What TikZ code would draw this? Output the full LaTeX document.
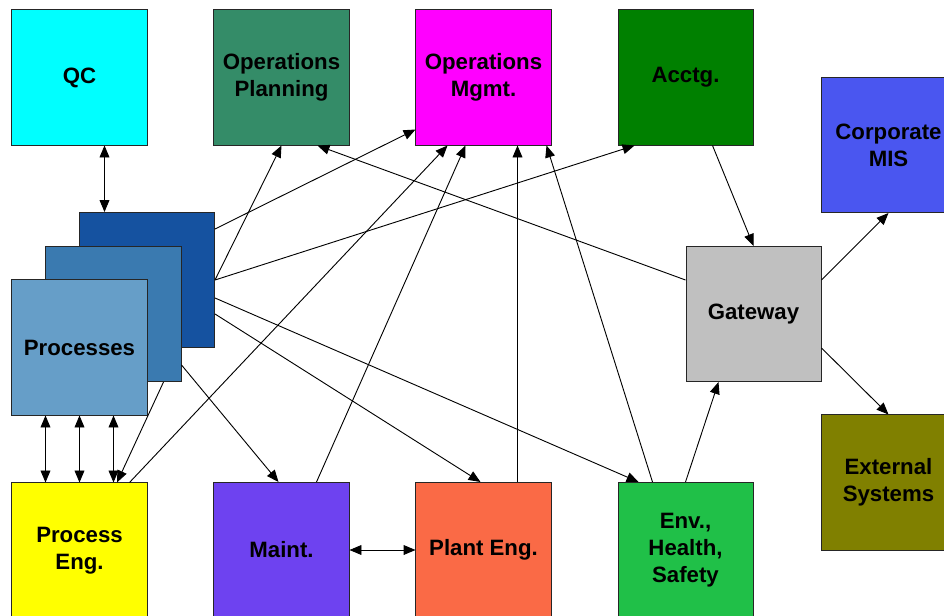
\documentclass[tikz,border=0pt]{standalone}
\usepackage{fontspec}
\setmainfont{Liberation Sans}
\usetikzlibrary{arrows.meta,calc,positioning}
\definecolor{qc}{RGB}{0,255,255}
\definecolor{opsplan}{RGB}{52,140,104}
\definecolor{opsmgmt}{RGB}{255,0,255}
\definecolor{acctg}{RGB}{0,128,0}
\definecolor{corpmis}{RGB}{74,86,240}
\definecolor{gateway}{RGB}{192,192,192}
\definecolor{external}{RGB}{128,128,0}
\definecolor{procback}{RGB}{21,82,160}
\definecolor{procmid}{RGB}{58,122,176}
\definecolor{procfront}{RGB}{102,158,200}
\definecolor{proceng}{RGB}{255,255,0}
\definecolor{maint}{RGB}{110,66,240}
\definecolor{planteng}{RGB}{250,106,70}
\definecolor{ehs}{RGB}{32,192,72}
\tikzset{>={Triangle[length=8.5pt,width=7pt]},shorten >=0pt}
\tikzset{unit/.style={draw=black!85,line width=0.7pt,minimum width=3.375cm,minimum height=3.375cm,
    inner sep=0pt,align=center,font=\fontsize{15.8}{19}\selectfont\bfseries}}
\tikzset{link/.style={line width=0.65pt}}

\begin{document}
\begin{tikzpicture}[x=0.025cm,y=-0.025cm]
    \useasboundingbox (0,0) rectangle (944,616);
    \node[unit,fill=qc] (qc) at (79.5,77.5) {QC};
    \node[unit,fill=opsplan] (opsplan) at (281.5,77.5) {Operations\\Planning};
    \node[unit,fill=opsmgmt] (opsmgmt) at (483.5,77.5) {Operations\\Mgmt.};
    \node[unit,fill=acctg] (acctg) at (685.5,77.5) {Acctg.};
    \node[unit,fill=corpmis] (corpmis) at (888.5,145) {Corporate\\MIS};
    \node[unit,fill=gateway] (gateway) at (753.5,314) {Gateway};
    \node[unit,fill=external] (external) at (888.5,482.5) {External\\Systems};
    \node[unit,fill=procback] (procback) at (147,280) {};
    \node[unit,fill=procmid] (procmid) at (113.5,314) {};
    \node[unit,fill=procfront] (procfront) at (79.5,347.5) {Processes};
    \node[unit,fill=proceng] (proceng) at (79.5,550.5) {Process\\Eng.};
    \node[unit,fill=maint] (maint) at (281.5,550) {Maint.};
    \node[unit,fill=planteng] (planteng) at (483.5,550) {Plant Eng.};
    \node[unit,fill=ehs] (ehs) at (685.5,550) {Env.,\\Health,\\Safety};

    \coordinate (qcout) at ($(qc.south)+(25,0)$);
    \draw[link,<->] (qcout) -- (qcout |- procback.north);
    \foreach \dx in {-34,0,34}
        \draw[link,<->] ($(procfront.south)+(\dx,0)$) -- ($(proceng.north)+(\dx,0)$);
    \draw[link,->] ($(procmid.south east)+(-18,0)$) -- ($(proceng.north)+(37.5,0)$);
    \draw[link,->] ($(procmid.east)+(0,51)$) -- ($(maint.north)+(-3,0)$);
    \draw[link,->] ($(procback.east)+(0,-51)$) -- ($(opsmgmt.west)+(0,52)$);
    \draw[link,->] (procback.east) -- (opsplan.south);
    \draw[link,->] (procback.east) -- ($(acctg.south)+(-51,0)$);
    \draw[link,->] ($(procback.east)+(0,18)$) -- ($(ehs.north)+(-47,0)$);
    \draw[link,->] ($(procback.east)+(0,34)$) -- ($(planteng.north)+(-3,0)$);

    \draw[link,->] ($(proceng.north)+(50,0)$) -- ($(opsmgmt.south)+(-36,0)$);
    \draw[link,->] ($(maint.north)+(35,0)$) -- ($(opsmgmt.south)+(-18,0)$);
    \coordinate (plantout) at ($(planteng.north)+(34,0)$);
    \draw[link,->] (plantout) -- (plantout |- opsmgmt.south);
    \draw[link,->] ($(ehs.north)+(-33,0)$) -- ($(opsmgmt.south)+(63,0)$);
    \draw[link,<->] (maint.east) -- (planteng.west);

    \draw[link,->] (ehs.north) -- ($(gateway.south)+(-35,0)$);
    \draw[link,->] ($(acctg.south)+(27,0)$) -- (gateway.north);
    \draw[link,->] ($(gateway.west)+(0,-34)$) -- ($(opsplan.south)+(36,0)$);
    \draw[link,->] ($(gateway.east)+(0,-34)$) -- (corpmis.south);
    \draw[link,->] ($(gateway.east)+(0,34)$) -- (external.north);
\end{tikzpicture}
\end{document}
